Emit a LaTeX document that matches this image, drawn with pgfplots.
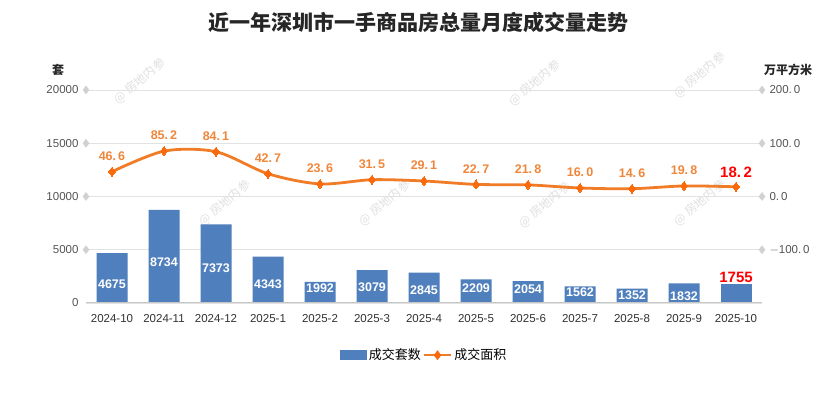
\documentclass[border=0pt]{standalone}
\usepackage{fontspec}
\setmainfont{Liberation Sans}
\newfontfamily\cjk{Noto Sans CJK SC}
\usepackage{pgfplots}
\pgfplotsset{compat=1.18}
\definecolor{barblue}{HTML}{4F7FBC}
\definecolor{lineor}{HTML}{F07C28}
\definecolor{markor}{HTML}{F86A0C}
\definecolor{lblor}{HTML}{F0863A}
\definecolor{gridc}{HTML}{E2E2E2}
\definecolor{tickc}{HTML}{555555}

\pgfplotstableread{
x v ly
0 4675 1784
1 8734 3850
2 7373 3286
3 4343 1784
4 1992 1408
5 3079 1502
6 2845 1220
7 2209 1408
8 2054 1315
9 1562 1033
10 1352 751
11 1832 657
}\bars

\begin{document}
\begin{tikzpicture}[x=1pt,y=1pt]
\useasboundingbox (0,0) rectangle (835,393);
\fill[white] (0,0) rectangle (835,393);
% watermarks
\foreach \wx/\wy in {140/312, 535/310, 700/318, 225/190, 385/190, 545/188, 700/190}{
  \node[rotate=40, text=black!12, font=\cjk\fontsize{12}{12}\selectfont] at (\wx,\wy) {@ 房地内参};
}
% title and unit labels
\node[font=\cjk\bfseries\fontsize{21}{24}\selectfont, text=black!85] at (418,370) {近一年深圳市一手商品房总量月度成交量走势};
\node[font=\cjk\bfseries\fontsize{12}{14}\selectfont, text=black!85] at (58,323) {套};
\node[font=\cjk\bfseries\fontsize{12}{14}\selectfont, text=black!85] at (788,323) {万平方米};

\begin{axis}[
  at={(86pt,90pt)}, anchor=south west, scale only axis,
  width=676pt, height=213pt,
  xmin=-0.5, xmax=12.5, ymin=0, ymax=20000,
  clip=false,
  axis line style={draw=none},
  ytick={0,5000,10000,15000,20000},
  ymajorgrids, grid style={gridc, line width=0.9pt},
  major tick length=0pt,
  xtick={0,...,12},
  xticklabels={2024-10,2024-11,2024-12,2025-1,2025-2,2025-3,2025-4,2025-5,2025-6,2025-7,2025-8,2025-9,2025-10},
  xticklabel style={font=\fontsize{11.5}{13}\selectfont, text=black!80, yshift=-8pt},
  yticklabel style={font=\fontsize{11.5}{13}\selectfont, text=tickc, xshift=-4pt},
  scaled y ticks=false,
  /pgf/number format/.cd, set thousands separator={}, assume math mode=true,
  /pgfplots/.cd,
  legend style={at={(0.5,-0.245)}, anchor=center, draw=none, fill=none,
    font=\cjk\fontsize{13}{15}\selectfont, legend columns=2,
    /tikz/every even column/.append style={column sep=0pt}},
  legend cell align=left,
]
\addplot[draw=none, fill=barblue, ybar, bar width=31pt,
  legend image code/.code={\fill[barblue] (0pt,-5pt) rectangle (27pt,5pt);}] table[x=x,y=v] \bars;
\addlegendentry{成交套数}
\addlegendimage{legend image code/.code={
  \draw[lineor, line width=2.5pt] (-2pt,0pt) -- (25pt,0pt);
  \fill[markor] (11.5pt,4.5pt) -- (15pt,0pt) -- (11.5pt,-4.5pt) -- (8pt,0pt) -- cycle;}}
\addlegendentry{成交面积}
\addplot[draw=none, fill=barblue, ybar, bar width=31pt, forget plot,
  nodes near coords, point meta=explicit symbolic,
  every node near coord/.append style={text=red, font=\bfseries\fontsize{15}{16}\selectfont, anchor=south, yshift=-2pt}]
  coordinates {(12,1755) [1755]};
% bar labels
\addplot[only marks, mark=none, forget plot,
  nodes near coords, point meta=\thisrow{v},
  nodes near coords style={text=white, font=\bfseries\fontsize{12.5}{14}\selectfont, anchor=center,
     /pgf/number format/.cd, fixed, precision=0, set thousands separator={}, assume math mode=true}]
  table[x=x,y=ly] \bars;
% diamonds at grid ends
\addplot[only marks, mark=diamond*, mark size=4pt, color=black!18, forget plot]
  coordinates {(-0.5,5000) (-0.5,10000) (-0.5,15000) (-0.5,20000) (12.5,5000) (12.5,10000) (12.5,15000) (12.5,20000)};
\draw[black!22, line width=1pt] (axis cs:-0.5,0) -- (axis cs:12.5,0);
\end{axis}

\begin{axis}[
  at={(86pt,90pt)}, anchor=south west, scale only axis,
  width=676pt, height=213pt,
  xmin=-0.5, xmax=12.5, ymin=-200, ymax=200,
  clip=false,
  axis line style={draw=none},
  axis y line*=right, axis x line=none,
  major tick length=0pt,
  ytick={-100,0,100,200},
  yticklabels={$-$100.\,0, 0.\,0, 100.\,0, 200.\,0},
  yticklabel style={font=\fontsize{11.5}{13}\selectfont, text=tickc, xshift=4pt},
]
\addplot[lineor, line width=2.8pt, smooth, tension=0.5, mark=diamond*, mark size=4.5pt,
  mark options={markor, fill=markor, line width=0pt},
  nodes near coords, point meta=explicit symbolic,
  every node near coord/.append style={text=lblor, font=\bfseries\fontsize{12.5}{14}\selectfont, anchor=south, yshift=8pt}]
  coordinates {
(0,46.6) [46.\,6]
(1,85.2) [85.\,2]
(2,84.1) [84.\,1]
(3,42.7) [42.\,7]
(4,23.6) [23.\,6]
(5,31.5) [31.\,5]
(6,29.1) [29.\,1]
(7,22.7) [22.\,7]
(8,21.8) [21.\,8]
(9,16.0) [16.\,0]
(10,14.6) [14.\,6]
(11,19.8) [19.\,8]
(12,18.2) []
};
\addplot[only marks, mark=none, nodes near coords, point meta=explicit symbolic,
  every node near coord/.append style={text=red, font=\bfseries\fontsize{15}{16}\selectfont, anchor=south, yshift=6pt}]
  coordinates {(12,18.2) [18.\,2]};
\end{axis}
\end{tikzpicture}
\end{document}
